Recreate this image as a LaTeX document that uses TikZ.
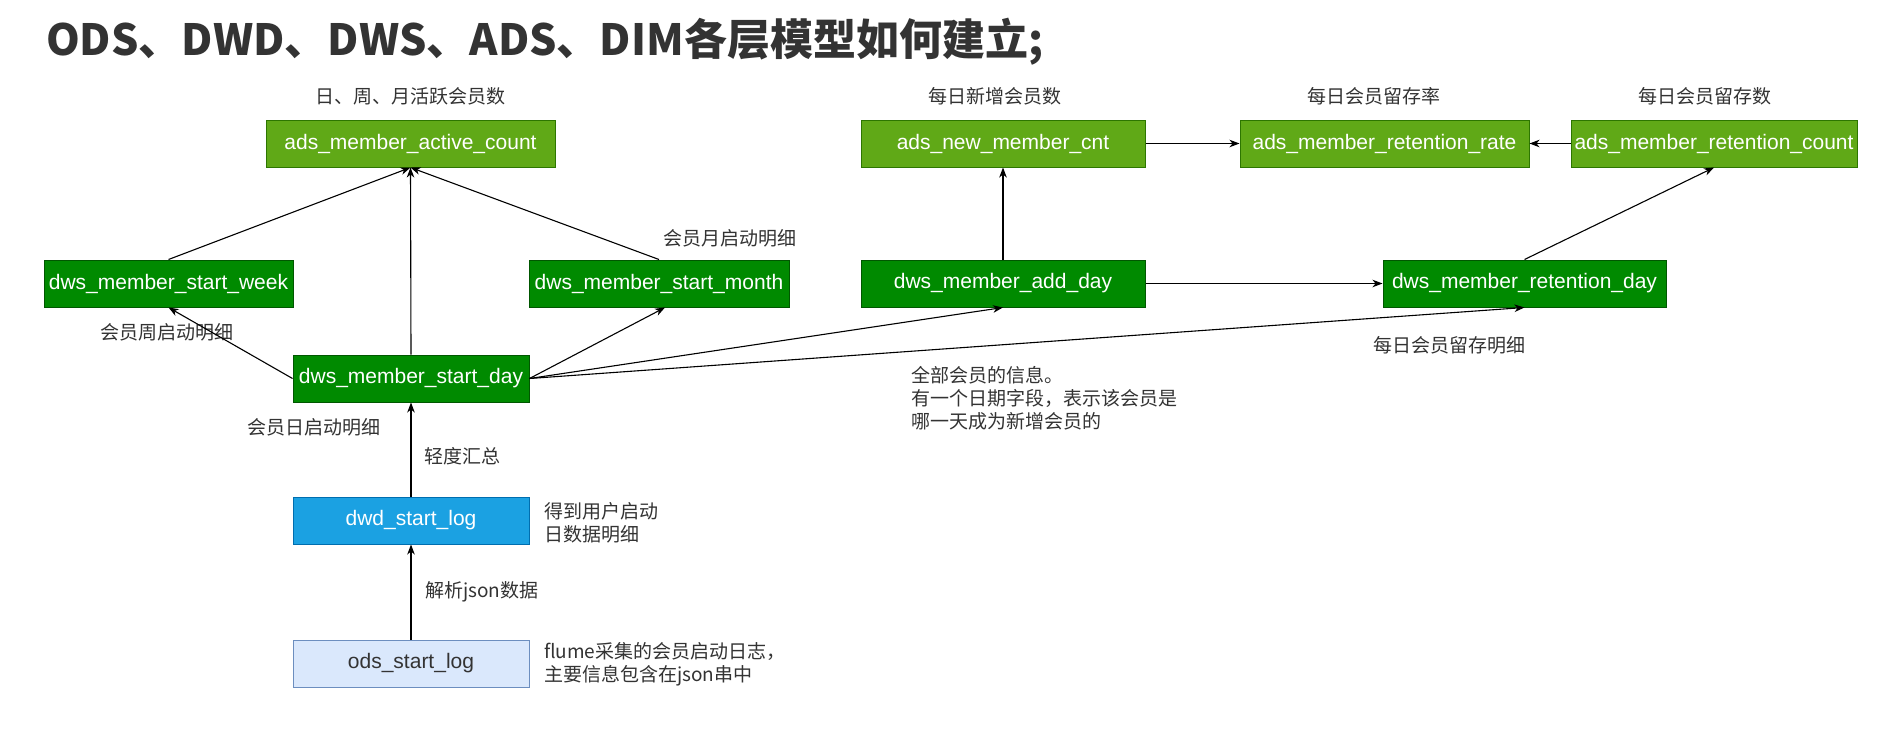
\documentclass[tikz,border=0pt]{standalone}
\usepackage{fontspec}
\setmainfont{Liberation Sans}
\newfontfamily\cjk{Noto Sans CJK SC}
\usetikzlibrary{arrows.meta}
\definecolor{adsfill}{HTML}{60A917}
\definecolor{adsdraw}{HTML}{2D7600}
\definecolor{dwsfill}{HTML}{008A00}
\definecolor{dwsdraw}{HTML}{005700}
\definecolor{dwdfill}{HTML}{1BA1E2}
\definecolor{dwddraw}{HTML}{006EAF}
\definecolor{odsfill}{HTML}{DAE8FC}
\definecolor{odsdraw}{HTML}{6C8EBF}
\definecolor{txt}{HTML}{333333}
\begin{document}
\begin{tikzpicture}[x=1pt,y=-1pt,
  box/.style={draw, line width=1pt, inner sep=0pt, minimum height=47pt, text=white,
    font=\fontsize{21}{21}\selectfont},
  ads/.style={box, fill=adsfill, draw=adsdraw},
  dws/.style={box, fill=dwsfill, draw=dwsdraw},
  dwd/.style={box, fill=dwdfill, draw=dwddraw},
  ods/.style={box, fill=odsfill, draw=odsdraw, text=txt},
  lbl/.style={font=\cjk\fontsize{19}{23}\selectfont, text=txt, inner sep=0pt, align=left},
  arr/.style={line width=1.1pt, draw=black, -{Stealth[length=10pt,width=7.5pt,inset=3pt]}}
]
\useasboundingbox[fill=white] (0,0) rectangle (1882,750);

\node[anchor=west, text=txt, inner sep=0pt, font=\cjk\bfseries\fontsize{43}{43}\selectfont] (title) at (46,42) {ODS、DWD、DWS、ADS、DIM各层模型如何建立;};

% ADS layer
\node[ads, minimum width=289pt] (a1) at (410.5,143.5) {ads\_member\_active\_count};
\node[ads, minimum width=284pt] (a2) at (1003,143.5) {ads\_new\_member\_cnt};
\node[ads, minimum width=289pt] (a3) at (1384.5,143.5) {ads\_member\_retention\_rate};
\node[ads, minimum width=286pt] (a4) at (1714,143.5) {ads\_member\_retention\_count};

% DWS layer
\node[dws, minimum width=249pt] (w) at (168.5,283.5) {dws\_member\_start\_week};
\node[dws, minimum width=260pt] (m) at (659,283.5) {dws\_member\_start\_month};
\node[dws, minimum width=284pt] (ad) at (1003,283.5) {dws\_member\_add\_day};
\node[dws, minimum width=283pt] (rd) at (1524.5,283.5) {dws\_member\_retention\_day};
\node[dws, minimum width=236pt] (sd) at (411,378.5) {dws\_member\_start\_day};

% DWD / ODS
\node[dwd, minimum width=236pt] (dwd) at (411,520.5) {dwd\_start\_log};
\node[ods, minimum width=236pt] (ods) at (411,663.5) {ods\_start\_log};

% labels
\node[lbl] (l1) at (410,96) {日、周、月活跃会员数};
\node[lbl] (l2) at (995,96) {每日新增会员数};
\node[lbl] (l3) at (1374,96) {每日会员留存率};
\node[lbl] (l4) at (1705,96) {每日会员留存数};
\node[lbl, anchor=west] (l5) at (663,238) {会员月启动明细};
\node[lbl, anchor=west] (l6) at (100,332) {会员周启动明细};
\node[lbl, anchor=west] (l7) at (247,427) {会员日启动明细};
\node[lbl, anchor=west] (l8) at (424,456) {轻度汇总};
\node[lbl, anchor=west] (l9) at (544,523) {得到用户启动\\日数据明细};
\node[lbl, anchor=west] (l10) at (425,592) {解析json数据};
\node[lbl, anchor=west] (l11) at (544,664.5) {flume采集的会员启动日志，\\主要信息包含在json串中};
\node[lbl, anchor=west] (l12) at (911,398) {全部会员的信息。\\有一个日期字段，表示该会员是\\哪一天成为新增会员的};
\node[lbl, anchor=west] (l13) at (1373,345) {每日会员留存明细};

% connectors
\draw[arr] (w.north) -- (a1.south);
\draw[arr] (sd.north) -- (a1.south);
\draw[arr] (m.north) -- (a1.south);
\draw[arr] (sd.west) -- (w.south);
\draw[arr] (sd.east) -- ([xshift=6pt]m.south);
\draw[arr] (sd.east) -- (ad.south);
\draw[arr] (sd.east) -- (rd.south);
\draw[arr] (ad.north) -- (a2.south);
\draw[arr] (ad.east) -- (rd.west);
\draw[arr] (rd.north) -- (a4.south);
\draw[arr] (a2.east) -- (a3.west);
\draw[arr] (a4.west) -- (a3.east);
\draw[arr] (dwd.north) -- (sd.south);
\draw[arr] (ods.north) -- (dwd.south);
\end{tikzpicture}
\end{document}
